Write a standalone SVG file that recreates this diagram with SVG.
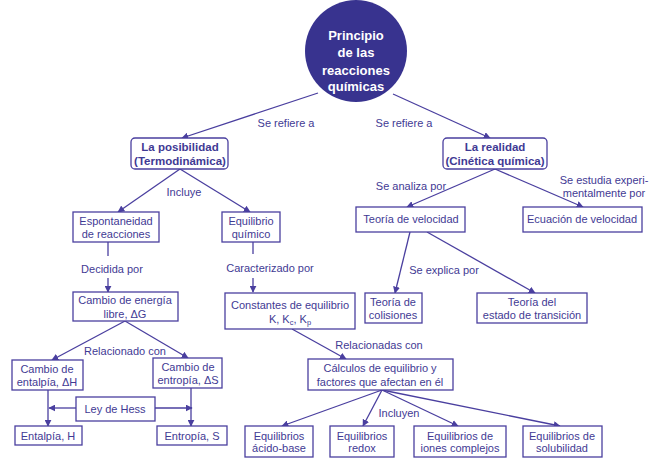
<svg xmlns="http://www.w3.org/2000/svg" width="650" height="461" viewBox="0 0 650 461">
<defs>
<marker id="ah" viewBox="0 0 10 10" refX="9" refY="5" markerWidth="7" markerHeight="7" markerUnits="userSpaceOnUse" orient="auto">
<path d="M0,0 L10,5 L0,10 z" fill="#4a3f9f"/>
</marker>
<style>
.box{fill:#fff;stroke:#4a3f9f;stroke-width:1.3}
.t{font-family:"Liberation Sans",Arial,sans-serif;font-size:11px;fill:#3f3a94;text-anchor:middle}
.b{font-weight:bold;font-size:11.5px}
.w{font-family:"Liberation Sans",Arial,sans-serif;font-size:13px;font-weight:bold;fill:#fff;text-anchor:middle}
.c{fill:none;stroke:#4a3f9f;stroke-width:1.3}
.a{marker-end:url(#ah)}
</style>
</defs>
<rect width="650" height="461" fill="#fff"/>
<g id="connectors">
<line class="c a" x1="318" y1="93" x2="182" y2="138"/>
<line class="c a" x1="393" y1="94" x2="490" y2="138"/>
<line class="c a" x1="180" y1="169" x2="118" y2="212"/>
<line class="c a" x1="180" y1="169" x2="250" y2="212"/>
<line class="c a" x1="495" y1="169" x2="407" y2="207"/>
<line class="c a" x1="495" y1="169" x2="583" y2="207"/>
<line class="c" x1="108" y1="242" x2="108" y2="256"/>
<line class="c a" x1="108" y1="278" x2="108" y2="292"/>
<line class="c" x1="253" y1="242" x2="253" y2="254"/>
<line class="c a" x1="253" y1="278" x2="253" y2="292"/>
<line class="c a" x1="410" y1="232" x2="395" y2="293"/>
<line class="c a" x1="427" y1="232" x2="535" y2="293"/>
<line class="c a" x1="125" y1="321" x2="52" y2="360"/>
<line class="c a" x1="125" y1="321" x2="188" y2="358"/>
<line class="c a" x1="48" y1="390" x2="48" y2="426"/>
<line class="c a" x1="191" y1="388" x2="191" y2="426"/>
<line class="c a" x1="76" y1="408" x2="49" y2="408"/>
<line class="c a" x1="155" y1="408" x2="192" y2="408"/>
<line class="c a" x1="292" y1="329" x2="346" y2="359"/>
<line class="c a" x1="382" y1="390" x2="282" y2="426"/>
<line class="c a" x1="382" y1="390" x2="363" y2="426"/>
<line class="c a" x1="382" y1="390" x2="458" y2="426"/>
<line class="c a" x1="382" y1="390" x2="560" y2="426"/>
</g>
<g id="labels">
<text class="t" x="286" y="127">Se refiere a</text>
<text class="t" x="404" y="127">Se refiere a</text>
<text class="t" x="184" y="196">Incluye</text>
<text class="t" x="411" y="190">Se analiza por</text>
<text class="t" x="604" y="184">Se estudia experi-</text>
<text class="t" x="604" y="197">mentalmente por</text>
<text class="t" x="112" y="273">Decidida por</text>
<text class="t" x="270" y="272">Caracterizado por</text>
<text class="t" x="444" y="274">Se explica por</text>
<text class="t" x="125" y="355">Relacionado con</text>
<text class="t" x="379" y="349">Relacionadas con</text>
<text class="t" x="399" y="417">Incluyen</text>
</g>
<g id="principio">
<circle cx="356" cy="51" r="51" fill="#38338f"/>
<text class="w" x="356" y="40">Principio</text>
<text class="w" x="356" y="57">de las</text>
<text class="w" x="356" y="75">reacciones</text>
<text class="w" x="356" y="91">químicas</text>
</g>
<g id="posibilidad">
<rect class="box" x="131" y="138" width="97" height="31" rx="4"/>
<text class="t b" x="180" y="151">La posibilidad</text>
<text class="t b" x="180" y="165">(Termodinámica)</text>
</g>
<g id="realidad">
<rect class="box" x="443" y="138" width="104" height="31" rx="4"/>
<text class="t b" x="495" y="151">La realidad</text>
<text class="t b" x="495" y="165">(Cinética química)</text>
</g>
<g id="espontaneidad">
<rect class="box" x="73" y="212" width="86" height="30"/>
<text class="t" x="116" y="225">Espontaneidad</text>
<text class="t" x="116" y="238">de reacciones</text>
</g>
<g id="equilibrio">
<rect class="box" x="222" y="212" width="58" height="30"/>
<text class="t" x="251" y="225">Equilibrio</text>
<text class="t" x="251" y="238">químico</text>
</g>
<g id="teoria-velocidad">
<rect class="box" x="356" y="207" width="109" height="25"/>
<text class="t" x="411" y="223">Teoría de velocidad</text>
</g>
<g id="ecuacion">
<rect class="box" x="523" y="207" width="119" height="25"/>
<text class="t" x="582" y="223">Ecuación de velocidad</text>
</g>
<g id="energia-libre">
<rect class="box" x="73" y="292" width="105" height="29"/>
<text class="t" x="125" y="304">Cambio de energía</text>
<text class="t" x="125" y="318">libre, ΔG</text>
</g>
<g id="constantes">
<rect class="box" x="225" y="293" width="130" height="36"/>
<text class="t" x="290" y="309">Constantes de equilibrio</text>
<text class="t" x="290" y="323">K, K<tspan font-size="7.5" dy="2">c</tspan><tspan dy="-2">, K</tspan><tspan font-size="7.5" dy="2">p</tspan></text>
</g>
<g id="colisiones">
<rect class="box" x="365" y="293" width="57" height="30"/>
<text class="t" x="393" y="306">Teoría de</text>
<text class="t" x="393" y="319">colisiones</text>
</g>
<g id="estado-transicion">
<rect class="box" x="477" y="293" width="110" height="30"/>
<text class="t" x="532" y="306">Teoría del</text>
<text class="t" x="532" y="319">estado de transición</text>
</g>
<g id="entalpia-cambio">
<rect class="box" x="12" y="360" width="71" height="30"/>
<text class="t" x="47" y="373">Cambio de</text>
<text class="t" x="47" y="386">entalpía, ΔH</text>
</g>
<g id="entropia-cambio">
<rect class="box" x="153" y="358" width="69" height="30"/>
<text class="t" x="188" y="371">Cambio de</text>
<text class="t" x="188" y="384">entropía, ΔS</text>
</g>
<g id="hess">
<rect class="box" x="76" y="397" width="79" height="24"/>
<text class="t" x="115" y="413">Ley de Hess</text>
</g>
<g id="entalpia">
<rect class="box" x="15" y="426" width="67" height="19"/>
<text class="t" x="48" y="440">Entalpía, H</text>
</g>
<g id="entropia">
<rect class="box" x="157" y="426" width="70" height="19"/>
<text class="t" x="192" y="440">Entropía, S</text>
</g>
<g id="calculos">
<rect class="box" x="308" y="359" width="145" height="31"/>
<text class="t" x="380" y="372">Cálculos de equilibrio y</text>
<text class="t" x="380" y="386">factores que afectan en él</text>
</g>
<g id="acido-base">
<rect class="box" x="245" y="426" width="68" height="31"/>
<text class="t" x="279" y="440">Equilibrios</text>
<text class="t" x="279" y="452">ácido-base</text>
</g>
<g id="redox">
<rect class="box" x="330" y="426" width="64" height="31"/>
<text class="t" x="362" y="440">Equilibrios</text>
<text class="t" x="362" y="452">redox</text>
</g>
<g id="iones">
<rect class="box" x="414" y="426" width="92" height="31"/>
<text class="t" x="460" y="440">Equilibrios de</text>
<text class="t" x="460" y="452">iones complejos</text>
</g>
<g id="solubilidad">
<rect class="box" x="523" y="426" width="79" height="31"/>
<text class="t" x="562" y="440">Equilibrios de</text>
<text class="t" x="562" y="452">solubilidad</text>
</g>
</svg>
